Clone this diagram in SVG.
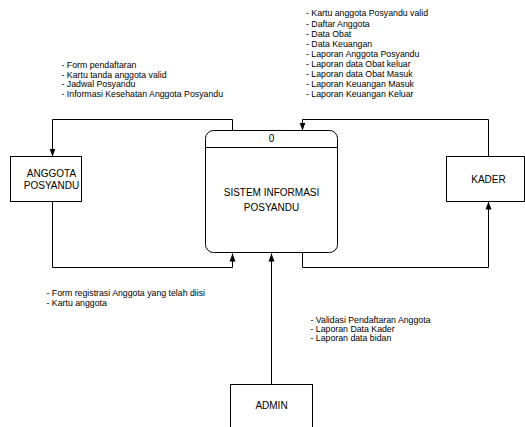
<svg xmlns="http://www.w3.org/2000/svg" width="525" height="427" viewBox="0 0 525 427">
<style>
.box{fill:#fff;stroke:#000;stroke-width:1}
.ln{fill:none;stroke:#000;stroke-width:1}
.t{font-family:"Liberation Sans",Arial,sans-serif;font-size:10px;fill:#000;text-anchor:middle}
.l{font-family:"Liberation Sans",Arial,sans-serif;font-size:8.75px;fill:#000}
</style>
<defs>
<marker id="ah" viewBox="0 0 8 8" refX="8" refY="4" markerWidth="8" markerHeight="8" markerUnits="userSpaceOnUse" orient="auto">
<path d="M0,1 L8,4 L0,7 z" fill="#000"/>
</marker>
</defs>
<rect width="525" height="427" fill="#fff"/>
<g id="connectors">
<path class="ln" d="M232.5,130.5 V119.5 H52.5 V156.5" marker-end="url(#ah)"/>
<path class="ln" d="M52.5,202 V267.5 H232.5 V253.5" marker-end="url(#ah)"/>
<path class="ln" d="M488.5,156.5 V119.5 H302.5 V130.5" marker-end="url(#ah)"/>
<path class="ln" d="M302.5,253 V267.5 H488.5 V201.5" marker-end="url(#ah)"/>
<path class="ln" d="M271.5,384 V253.5" marker-end="url(#ah)"/>
</g>
<g id="process">
<rect class="box" x="205.5" y="130.5" width="132" height="122" rx="8" ry="8"/>
<line class="ln" x1="205.5" y1="147.5" x2="337.5" y2="147.5"/>
<text class="t" x="271.5" y="141.5">0</text>
<text class="t" x="271.5" y="196">SISTEM INFORMASI</text>
<text class="t" x="271.5" y="211">POSYANDU</text>
</g>
<g id="anggota">
<rect class="box" x="10.5" y="156.5" width="71" height="45"/>
<text class="t" x="51.5" y="177">ANGGOTA</text>
<text class="t" x="51.5" y="188.5">POSYANDU</text>
</g>
<g id="kader">
<rect class="box" x="446.5" y="156.5" width="78" height="45"/>
<text class="t" x="488.5" y="183">KADER</text>
</g>
<g id="admin">
<rect class="box" x="230.5" y="384.5" width="82" height="50"/>
<text class="t" x="271.5" y="409">ADMIN</text>
</g>
<g id="labels">
<text class="l" x="61.5" y="68">- Form pendaftaran</text>
<text class="l" x="61.5" y="78">- Kartu tanda anggota valid</text>
<text class="l" x="61.5" y="87.3">- Jadwal Posyandu</text>
<text class="l" x="61.5" y="96.5">- Informasi Kesehatan Anggota Posyandu</text>
<text class="l" x="306" y="16.3">- Kartu anggota Posyandu valid</text>
<text class="l" x="306" y="27">- Daftar Anggota</text>
<text class="l" x="306" y="37">- Data Obat</text>
<text class="l" x="306" y="47">- Data Keuangan</text>
<text class="l" x="306" y="57.3">- Laporan Anggota Posyandu</text>
<text class="l" x="306" y="67.3">- Laporan data Obat keluar</text>
<text class="l" x="306" y="77.3">- Laporan data Obat Masuk</text>
<text class="l" x="306" y="87.3">- Laporan Keuangan Masuk</text>
<text class="l" x="306" y="97.3">- Laporan Keuangan Keluar</text>
<text class="l" x="46.5" y="296.3">- Form registrasi Anggota yang telah diisi</text>
<text class="l" x="46.5" y="305.7">- Kartu anggota</text>
<text class="l" x="310.5" y="323">- Validasi Pendaftaran Anggota</text>
<text class="l" x="310.5" y="332">- Laporan Data Kader</text>
<text class="l" x="310.5" y="340.7">- Laporan data bidan</text>
</g>
</svg>
